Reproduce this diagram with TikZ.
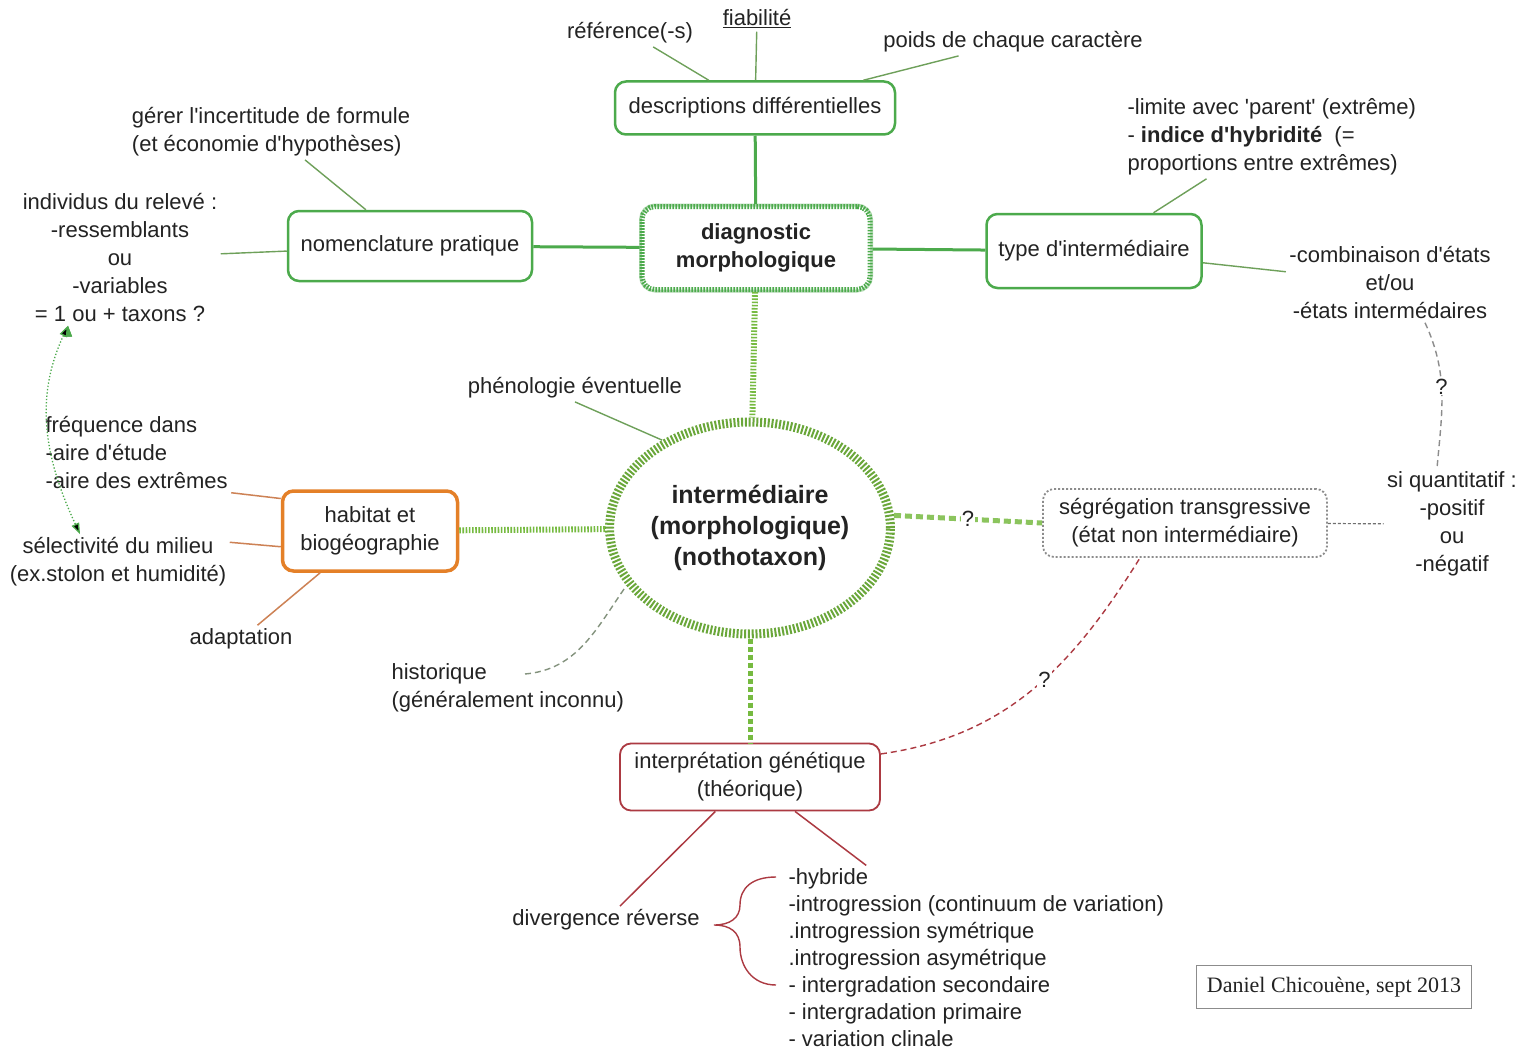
\documentclass[tikz,border=0pt]{standalone}
\usepackage{fontspec}
\setmainfont{Liberation Sans}
\newfontfamily\sigfont{Liberation Serif}
\usetikzlibrary{shapes.geometric, arrows.meta}
\definecolor{mapgreen}{RGB}{76,170,76}
\definecolor{tickgreen}{RGB}{118,186,64}
\definecolor{maporange}{RGB}{228,128,40}
\definecolor{mapred}{RGB}{172,58,66}
\definecolor{twiggreen}{RGB}{110,160,90}
\definecolor{twigorange}{RGB}{205,130,85}
\definecolor{mapgray}{RGB}{140,140,140}
\definecolor{maptext}{RGB}{35,35,35}
\newcommand{\ap}{\textquotesingle}

\begin{document}
\begin{tikzpicture}[x=1pt, y=-1pt, font=\fontsize{22}{28}\selectfont, text=maptext,
    every node/.style={align=center},
    branch/.style={draw=mapgreen, line width=2.5pt, rounded corners=11pt, fill=white},
    hub/.style={draw=mapgreen, line width=5pt, dash pattern=on 1.6pt off 1.4pt, rounded corners=13pt, fill=white,
        font=\fontsize{22}{28}\selectfont\bfseries, preaction={draw=mapgreen!40, line width=6pt, solid}},
    core/.style={ellipse, draw=tickgreen!90!black, line width=9pt, dash pattern=on 2pt off 1.8pt, inner sep=0pt, fill=white,
        minimum width=280pt, minimum height=212pt, font=\fontsize{25}{31}\selectfont\bfseries},
    habbox/.style={draw=maporange, line width=3.5pt, rounded corners=11pt, fill=white},
    segbox/.style={draw=mapgray, line width=1.8pt, dash pattern=on 2pt off 2pt, rounded corners=11pt, fill=white},
    genbox/.style={draw=mapred, line width=1.8pt, rounded corners=11pt, fill=white},
    signbox/.style={draw=mapgray, line width=1.2pt, font=\sigfont\fontsize{22}{26}\selectfont},
    trunk/.style={draw=mapgreen, line width=3pt},
    tickline/.style={draw=tickgreen, line width=6pt, dash pattern=on 1.6pt off 1.6pt},
    twig/.style={draw=twiggreen, line width=1.4pt},
    habtwig/.style={draw=twigorange, line width=1.5pt},
    gentwig/.style={draw=mapred, line width=1.5pt},
    graydash/.style={draw=mapgray, line width=1.4pt, dash pattern=on 6pt off 4pt},
    qmark/.style={fill=white, inner sep=1pt}]
    \useasboundingbox[fill=white] (0,0) rectangle (1531,1054);

    % main boxes
    \node[branch, minimum width=280pt, minimum height=53pt] (desc) at (755,108) {descriptions différentielles};
    \node[hub, minimum width=228pt, minimum height=83pt] (diag) at (756,248) {diagnostic\\morphologique};
    \node[branch, minimum width=244pt, minimum height=70pt] (nomen) at (410,246) {nomenclature pratique};
    \node[branch, minimum width=215pt, minimum height=74pt] (type) at (1094,251) {type d\ap intermédiaire};
    \node[core] (inter) at (750,528) {intermédiaire\\(morphologique)\\(nothotaxon)};
    \node[habbox, minimum width=175pt, minimum height=80pt] (habitat) at (370,531) {habitat et\\biogéographie};
    \node[segbox, minimum width=284pt, minimum height=68pt] (segreg) at (1185,523) {ségrégation transgressive\\(état non intermédiaire)};
    \node[genbox, minimum width=260pt, minimum height=67pt] (interp) at (750,777) {interprétation génétique\\(théorique)};
    \node[signbox, minimum width=275pt, minimum height=43pt] (sign) at (1334,987) {Daniel Chicouène, sept 2013};

    % free texts
    \node (ref) at (630,33) {référence(-s)};
    \node (fiab) at (757,19) {\underline{fiabilité}};
    \node (poids) at (1013,42) {poids de chaque caractère};
    \node[align=left] (gerer) at (271,132) {gérer l\ap incertitude de formule\\(et économie d\ap hypothèses)};
    \node (indiv) at (120,258) {individus du relevé :\\-ressemblants\\ou\\-variables\\= 1 ou + taxons ?};
    \node[anchor=west, align=left] (limite) at (1124,137) {-limite avec \ap parent\ap{} (extrême)\\- \textbf{indice d\ap hybridité}\ \ (=\\proportions entre extrêmes)};
    \node (combi) at (1390,283) {-combinaison d\ap états\\et/ou\\-états intermédaires};
    \node (siquant) at (1452,524) {si quantitatif :\\-positif\\ou\\-négatif};
    \node (pheno) at (575,388) {phénologie éventuelle};
    \node[anchor=west, align=left] (freq) at (42,453) {fréquence dans\\-aire d\ap étude\\-aire des extrêmes};
    \node (select) at (118,562) {sélectivité du milieu\\(ex.stolon et humidité)};
    \node (adapt) at (241,639) {adaptation};
    \node[anchor=west, align=left] (histo) at (388,688) {historique\\(généralement inconnu)};
    \node (diverg) at (606,920) {divergence réverse};
    \node[anchor=west, align=left, font=\fontsize{22}{27}\selectfont] (list) at (785,958) {-hybride\\-introgression (continuum de variation)\\.introgression symétrique\\.introgression asymétrique\\- intergradation secondaire\\- intergradation primaire\\- variation clinale};

    % connectors
    \path[trunk] (desc) edge (diag)
        (diag) edge (nomen)
        (diag) edge (type);
    \path[tickline] (diag) edge (inter)
        (habitat) edge (inter);
    \path[draw=tickgreen, line width=5pt, dash pattern=on 5pt off 3pt] (inter) edge (interp);
    \path[draw=tickgreen!85, line width=5pt, dash pattern=on 7pt off 4pt]
        (inter.5) edge node[qmark] {?} (segreg.west);
    \path[twig] (ref) edge (desc)
        (fiab) edge (desc)
        (poids) edge (desc)
        (gerer) edge (nomen)
        (indiv) edge (nomen)
        (limite) edge (type)
        (type) edge (combi)
        (pheno.south) edge (inter.135);
    \path[habtwig] (freq.south east) edge (habitat.160)
        (select.10) edge (habitat.190)
        (adapt) edge (habitat);
    \path[gentwig] (diverg) edge (interp)
        ([xshift=45pt]interp.south) edge ([xshift=-110pt]list.north);
    \path[graydash] ([xshift=35pt]combi.south) edge[out=-65, in=85] node[qmark, pos=0.45] {?} ([xshift=-15pt]siquant.north);
    \path[draw=mapgray!70!twiggreen, line width=1.4pt, dash pattern=on 6pt off 4pt]
        ([xshift=137pt, yshift=14pt]histo.west) edge[out=5, in=235] (inter.205);
    \path[draw=mapgray!80!black, line width=1.2pt, dash pattern=on 3pt off 2pt] (segreg) edge (siquant);
    \path[draw=mapred, line width=1.4pt, dash pattern=on 6pt off 4pt]
        (interp.10) edge[out=8, in=238] node[qmark, pos=0.55] {?} ([xshift=-45pt]segreg.south);
    \path[draw=mapgreen, line width=1.3pt, dotted, {Triangle[length=11pt, width=8pt]}-{Triangle[length=11pt, width=8pt]}]
        ([xshift=-52pt]indiv.south) edge[out=245, in=115] ([xshift=-38pt]select.north);

    % brace
    \draw[mapred, line width=1.4pt] (776,877) .. controls (752,877) and (740,888) .. (740,905)
        .. controls (740,918) and (730,925) .. (714,925)
        .. controls (730,925) and (740,932) .. (740,947)
        .. controls (740,966) and (752,985) .. (776,985);
\end{tikzpicture}
\end{document}
